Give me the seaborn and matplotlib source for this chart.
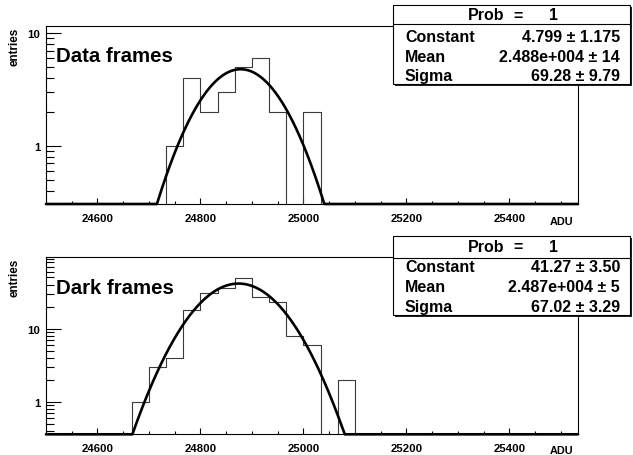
import numpy as np
import pandas as pd
import matplotlib
matplotlib.use("Agg")
import matplotlib.pyplot as plt
import matplotlib.ticker as mticker
from matplotlib.patches import Rectangle
from matplotlib.lines import Line2D
import seaborn as sns

# ---------------- data ----------------
bin_start = 24500.0
bin_width = 100.0 / 3.0
n_bins = 31

# counts per bin (31 bins from 24500 to 25533.3)
data_counts = [0, 0, 0, 0, 0, 0, 0,
               1, 4, 2, 3, 5, 6, 2, 0, 2,
               0, 0, 0, 0, 0, 0, 0, 0, 0, 0, 0, 0, 0, 0, 0]
dark_counts = [0, 0, 0, 0, 0,
               1, 3, 4, 18, 31, 36, 49, 27, 23, 8, 6, 0, 2,
               0, 0, 0, 0, 0, 0, 0, 0, 0, 0, 0, 0, 0]

data_fit = {"Constant": 4.799, "Mean": 24878.0, "Sigma": 69.28}
dark_fit = {"Constant": 41.27, "Mean": 24874.0, "Sigma": 67.02}

data_stats = [("Constant", "4.799 \u00b1 1.175"),
              ("Mean", "2.488e+004 \u00b1 14"),
              ("Sigma", "69.28 \u00b1 9.79")]
dark_stats = [("Constant", "41.27 \u00b1 3.50"),
              ("Mean", "2.487e+004 \u00b1 5"),
              ("Sigma", "67.02 \u00b1 3.29")]

titles = ["Data frames", "Dark frames"]
x_ticks = [24600, 24800, 25000, 25200, 25400]
# ---------------------------------------

sns.set_theme(style="ticks", rc={"text.color": "black", "axes.labelcolor": "black",
                                 "xtick.color": "black", "ytick.color": "black",
                                 "axes.edgecolor": "black"})
plt.rcParams["font.family"] = ["Liberation Sans", "DejaVu Sans"]
plt.rcParams["font.weight"] = "bold"

W, H = 633, 456
fig = plt.figure(figsize=(W / 100, H / 100), dpi=100)
fig.patch.set_facecolor("white")


def fx(x):
    return x / W


def fy(y):
    return 1 - y / H


edges = bin_start + bin_width * np.arange(n_bins + 1)
centers = 0.5 * (edges[:-1] + edges[1:])
xmin, xmax = edges[0], edges[-1]

panels = [
    dict(counts=data_counts, fit=data_fit, stats=data_stats, title=titles[0],
         top=27, bottom=205, ylim=(0.306, 11.6),
         box=(393, 6, 630, 85), sep=25, rows=[37.5, 57.5, 76.5], prob_y=16,
         title_y=57, ent_y=28, adu_y=222, adu_va="center"),
    dict(counts=dark_counts, fit=dark_fit, stats=dark_stats, title=titles[1],
         top=258, bottom=435.3, ylim=(0.363, 95.0),
         box=(393, 237, 630, 316), sep=258.5, rows=[268, 288, 307.5], prob_y=248,
         title_y=289, ent_y=259, adu_y=446, adu_va="top"),
]

left_px, right_px = 46, 578

for p in panels:
    ax = fig.add_axes([fx(left_px), fy(p["bottom"]), (right_px - left_px) / W,
                       (p["bottom"] - p["top"]) / H])
    ax.set_facecolor("white")
    df = pd.DataFrame({"x": centers, "w": p["counts"]})
    sns.histplot(data=df, x="x", weights="w", binwidth=bin_width,
                 binrange=(xmin, xmax), element="step",
                 fill=False, color="#3a3a3a", linewidth=0.8, ax=ax)
    ax.set_yscale("log")
    ax.set_xlim(xmin, xmax)
    ax.set_ylim(*p["ylim"])

    # fit curve (clipped at the lower edge like ROOT)
    xs = np.linspace(xmin, xmax, 1500)
    f = p["fit"]
    ys = f["Constant"] * np.exp(-0.5 * ((xs - f["Mean"]) / f["Sigma"]) ** 2)
    ys = np.maximum(ys, p["ylim"][0])
    fd = pd.DataFrame({"x": xs, "y": ys})
    sns.lineplot(data=fd, x="x", y="y", color="black", linewidth=1.9, ax=ax,
                 clip_on=False, zorder=5, sort=False, estimator=None)

    ax.set_xlabel("")
    ax.set_ylabel("")
    for s in ax.spines.values():
        s.set_linewidth(0.8)
        s.set_color("black")

    # x ticks
    ax.xaxis.set_major_locator(mticker.FixedLocator(x_ticks))
    ax.xaxis.set_minor_locator(mticker.MultipleLocator(50))
    ax.tick_params(axis="x", which="major", direction="in", length=4.5, width=0.8,
                   pad=6.5, labelsize=8.2, top=False, colors="black")
    ax.tick_params(axis="x", which="minor", direction="in", length=2.2, width=0.8,
                   top=False, colors="black")
    # y ticks
    ax.yaxis.set_major_locator(mticker.LogLocator(base=10, numticks=10))
    ax.yaxis.set_minor_locator(mticker.LogLocator(base=10, subs=np.arange(2, 10),
                                                  numticks=10))
    ax.yaxis.set_major_formatter(mticker.FuncFormatter(lambda v, pos: "%g" % v))
    ax.yaxis.set_minor_formatter(mticker.NullFormatter())
    ax.tick_params(axis="y", which="major", direction="in", length=10.5, width=0.8,
                   pad=4, labelsize=8.2, right=False, colors="black")
    ax.tick_params(axis="y", which="minor", direction="in", length=5.5, width=0.8,
                   right=False, colors="black")
    for lab in ax.get_xticklabels() + ax.get_yticklabels():
        lab.set_fontweight("bold")

    # panel title
    fig.text(fx(56), fy(p["title_y"]), p["title"], fontsize=14.7, fontweight="bold",
             ha="left", va="center", color="black")
    # y label
    fig.text(fx(14), fy(p["ent_y"]), "entries", rotation=90, fontsize=8.4,
             fontweight="bold", ha="center", va="top", color="black")
    # x label
    fig.text(fx(562), fy(p["adu_y"]), "ADU", fontsize=7.8, fontweight="bold",
             ha="center", va=p["adu_va"], color="black")

    # stats box
    x0, y0, x1, y1 = p["box"]
    sh = 2.2
    fig.add_artist(Rectangle((fx(x0 + sh), fy(y1 + sh)), (x1 - x0) / W,
                             (y1 - y0) / H, transform=fig.transFigure,
                             facecolor="#222222", edgecolor="none", zorder=10))
    fig.add_artist(Rectangle((fx(x0), fy(y1)), (x1 - x0) / W, (y1 - y0) / H,
                             transform=fig.transFigure, facecolor="white",
                             edgecolor="black", linewidth=0.8, zorder=11))
    fig.add_artist(Line2D([fx(x0), fx(x1)], [fy(p["sep"]), fy(p["sep"])],
                          transform=fig.transFigure, color="black",
                          linewidth=0.8, zorder=12))
    fig.text(fx(468), fy(p["prob_y"]), "Prob", fontsize=11.5, fontweight="bold",
             ha="left", va="center", zorder=13, color="black")
    fig.text(fx(518), fy(p["prob_y"]), "=", fontsize=11.5, fontweight="bold",
             ha="center", va="center", zorder=13, color="black")
    fig.text(fx(553), fy(p["prob_y"]), "1", fontsize=11.5, fontweight="bold",
             ha="center", va="center", zorder=13, color="black")
    for (name, val), ry in zip(p["stats"], p["rows"]):
        fig.text(fx(405), fy(ry), name, fontsize=11.5, fontweight="bold",
                 ha="left", va="center", zorder=13, color="black")
        fig.text(fx(620), fy(ry), val, fontsize=11.5, fontweight="bold",
                 ha="right", va="center", zorder=13, color="black")

fig.savefig("out.png", dpi=100, facecolor="white")
